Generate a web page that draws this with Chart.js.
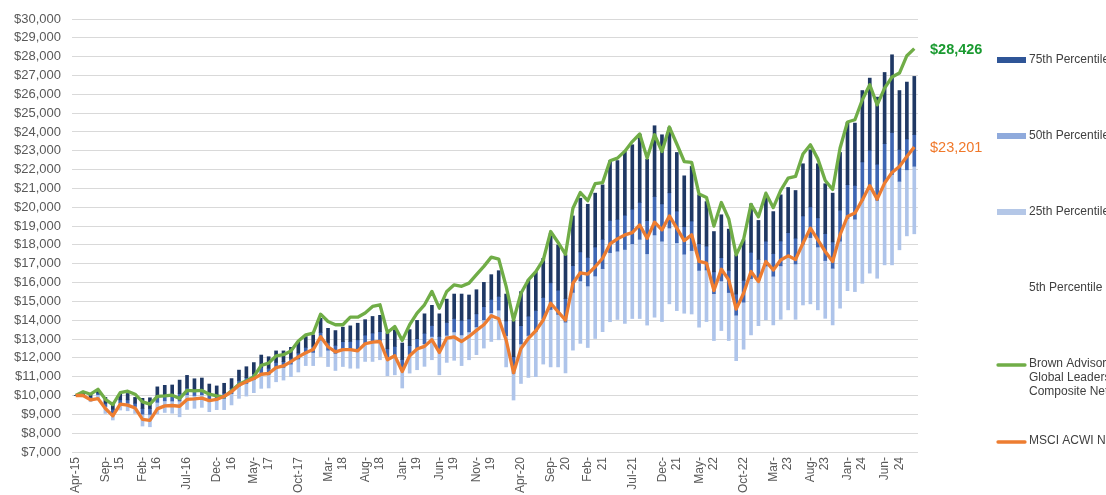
<!DOCTYPE html>
<html>
<head>
<meta charset="utf-8">
<script src="https://cdn.jsdelivr.net/npm/chart.js@4.4.1/dist/chart.umd.min.js"></script>
<style>
  html, body { margin: 0; padding: 0; background: #fff; overflow: hidden; }
  #wrap { position: relative; width: 1106px; height: 495px; }
</style>
</head>
<body>
<div id="wrap"><canvas id="growthChart" width="1106" height="495"></canvas></div>
<script>
// growth of $10,000, monthly, Apr-15 .. Sep-24
const months = [
    'Apr-15', 'May-15', 'Jun-15', 'Jul-15', 'Aug-15', 'Sep-15', 'Oct-15', 'Nov-15', 'Dec-15',
    'Jan-16', 'Feb-16', 'Mar-16', 'Apr-16', 'May-16', 'Jun-16', 'Jul-16', 'Aug-16', 'Sep-16', 'Oct-16', 'Nov-16', 'Dec-16',
    'Jan-17', 'Feb-17', 'Mar-17', 'Apr-17', 'May-17', 'Jun-17', 'Jul-17', 'Aug-17', 'Sep-17', 'Oct-17', 'Nov-17', 'Dec-17',
    'Jan-18', 'Feb-18', 'Mar-18', 'Apr-18', 'May-18', 'Jun-18', 'Jul-18', 'Aug-18', 'Sep-18', 'Oct-18', 'Nov-18', 'Dec-18',
    'Jan-19', 'Feb-19', 'Mar-19', 'Apr-19', 'May-19', 'Jun-19', 'Jul-19', 'Aug-19', 'Sep-19', 'Oct-19', 'Nov-19', 'Dec-19',
    'Jan-20', 'Feb-20', 'Mar-20', 'Apr-20', 'May-20', 'Jun-20', 'Jul-20', 'Aug-20', 'Sep-20', 'Oct-20', 'Nov-20', 'Dec-20',
    'Jan-21', 'Feb-21', 'Mar-21', 'Apr-21', 'May-21', 'Jun-21', 'Jul-21', 'Aug-21', 'Sep-21', 'Oct-21', 'Nov-21', 'Dec-21',
    'Jan-22', 'Feb-22', 'Mar-22', 'Apr-22', 'May-22', 'Jun-22', 'Jul-22', 'Aug-22', 'Sep-22', 'Oct-22', 'Nov-22', 'Dec-22',
    'Jan-23', 'Feb-23', 'Mar-23', 'Apr-23', 'May-23', 'Jun-23', 'Jul-23', 'Aug-23', 'Sep-23', 'Oct-23', 'Nov-23', 'Dec-23',
    'Jan-24', 'Feb-24', 'Mar-24', 'Apr-24', 'May-24', 'Jun-24', 'Jul-24', 'Aug-24', 'Sep-24'
];

// every 5th month gets a label, '\n' where excel wrapped it
const tickLabels = [
    'Apr-15', 'Sep-\n15', 'Feb-\n16', 'Jul-16', 'Dec-\n16', 'May-\n17', 'Oct-17', 'Mar-\n18',
    'Aug-\n18', 'Jan-\n19', 'Jun-\n19', 'Nov-\n19', 'Apr-20', 'Sep-\n20', 'Feb-\n21', 'Jul-21',
    'Dec-\n21', 'May-\n22', 'Oct-22', 'Mar-\n23', 'Aug-\n23', 'Jan-\n24', 'Jun-\n24'
];

const brownAdvisory = [
    10000, 10200, 10070, 10330, 9800, 9520, 10160, 10230, 10070, 9660,
    9540, 9960, 9980, 10020, 9840, 10270, 10250, 10270, 10070, 9980,
    9930, 10250, 10600, 10780, 11000, 11600, 11720, 12110, 12170, 12370,
    12900, 13220, 13310, 14320, 13930, 13760, 13760, 14160, 14160, 14380,
    14730, 14820, 13350, 13670, 12930, 13760, 14380, 14820, 15530, 14640,
    15530, 15880, 15800, 15970, 16420, 16860, 17350, 17250, 15800, 14010,
    15430, 16140, 16580, 17200, 18710, 18130, 17500, 19950, 20780, 20350,
    21260, 21310, 22470, 22610, 22980, 23490, 23890, 22610, 23850, 22960,
    24260, 23360, 22430, 22380, 20700, 20520, 19000, 20250, 19380, 17470,
    18300, 20150, 19490, 20750, 19980, 20900, 21550, 21640, 22830, 23320,
    22570, 21420, 20940, 23150, 24530, 24650, 25710, 26510, 25440, 26330,
    26920, 27130, 28050, 28426
];

const msciAcwi = [
    10000, 10000, 9770, 9840, 9310, 8920, 9540, 9490, 9340, 8730,
    8680, 9290, 9450, 9470, 9430, 9790, 9820, 9860, 9730, 9790,
    9960, 10200, 10550, 10730, 10900, 11130, 11170, 11480, 11570, 11800,
    12050, 12270, 12440, 13120, 12590, 12320, 12440, 12440, 12370, 12750,
    12840, 12870, 11900, 12110, 11280, 12110, 12470, 12610, 12960, 12290,
    13050, 13110, 12870, 13140, 13460, 13760, 14240, 14080, 12950, 11210,
    12500, 13030, 13440, 14010, 14900, 14450, 14010, 15960, 16520, 16450,
    16840, 17290, 18050, 18320, 18530, 18650, 19060, 18350, 19210, 18800,
    19540, 18890, 18230, 18540, 17120, 17030, 15580, 16710, 16140, 14590,
    15430, 16590, 16050, 17120, 16670, 17200, 17420, 17230, 18090, 18890,
    18270, 17650, 17120, 18540, 19510, 19690, 20390, 21150, 20430, 21280,
    21850, 22170, 22700, 23201
];

// peer universe percentiles
const pct75 = [
    10000, 10120, 10050, 10300, 9900, 9600, 10080, 10110, 9900, 9850,
    9880, 10460, 10540, 10560, 10820, 11070, 10890, 10930, 10610, 10510,
    10650, 10900, 11350, 11530, 11750, 12150, 12060, 12370, 12370, 12560,
    12850, 13130, 13220, 14100, 13570, 13450, 13630, 13700, 13840, 14030,
    14200, 14260, 13320, 13500, 12790, 13500, 13990, 14340, 14790, 14340,
    15120, 15390, 15390, 15340, 15620, 16010, 16420, 16630, 15390, 14000,
    15520, 16140, 16580, 17290, 18620, 18000, 17470, 19540, 20480, 20160,
    20750, 21190, 22470, 22480, 22960, 23320, 23880, 22550, 24330, 23850,
    24240, 22910, 21670, 22170, 20660, 20300, 18710, 19600, 18840, 17470,
    18270, 20180, 19300, 20660, 19770, 20660, 21050, 20890, 22310, 23050,
    22310, 21250, 20750, 22910, 24500, 24470, 26200, 26860, 25850, 27160,
    28100, 26200, 26650, 26950
];

const pct50 = [
    10000, 10050, 9910, 10130, 9590, 9270, 9770, 9770, 9590, 9310,
    9310, 9930, 10010, 10010, 10100, 10400, 10310, 10350, 10070, 10040,
    10130, 10380, 10800, 10950, 11160, 11500, 11450, 11760, 11800, 11980,
    12260, 12560, 12620, 13350, 12820, 12670, 12860, 12870, 12960, 13210,
    13320, 13390, 12480, 12610, 11910, 12650, 13020, 13310, 13720, 13140,
    13880, 14090, 13990, 14070, 14340, 14720, 15110, 15270, 13960, 12060,
    13710, 14220, 14520, 15210, 15990, 15600, 15150, 16900, 17630, 17340,
    17890, 18300, 19300, 19360, 19580, 19900, 20260, 19290, 20570, 20180,
    20770, 19800, 18970, 19270, 18060, 17940, 16570, 17320, 16650, 15390,
    16120, 17610, 17230, 18200, 17540, 18210, 18650, 18360, 19540, 20020,
    19440, 18600, 18160, 19850, 21200, 21160, 22410, 23030, 22290, 23380,
    23970, 23070, 23630, 23860
];

const pct25 = [
    10000, 10010, 9830, 10040, 9420, 9090, 9600, 9590, 9420, 9010,
    9000, 9640, 9720, 9710, 9710, 10040, 10000, 10040, 9770, 9790,
    9850, 10100, 10500, 10640, 10840, 11140, 11110, 11440, 11490, 11670,
    11940, 12250, 12290, 12940, 12410, 12240, 12440, 12420, 12480, 12760,
    12840, 12910, 12030, 12130, 11430, 12180, 12500, 12750, 13140, 12490,
    13200, 13380, 13220, 13380, 13650, 14020, 14400, 14540, 13180, 11180,
    12740, 13190, 13400, 14090, 14570, 14310, 13900, 15480, 16090, 15820,
    16350, 16740, 17590, 17670, 17760, 18060, 18300, 17530, 18530, 18200,
    18900, 18120, 17510, 17700, 16650, 16670, 15410, 16090, 15470, 14270,
    14960, 16210, 16110, 16880, 16340, 16890, 17350, 16990, 18040, 18390,
    17890, 17170, 16760, 18200, 19410, 19370, 20360, 20950, 20370, 21330,
    21740, 21380, 21990, 22180
];

const pct5 = [
    10000, 9930, 9670, 9850, 9050, 8700, 9230, 9190, 9050, 8380,
    8340, 9020, 9100, 9060, 8870, 9260, 9320, 9370, 9140, 9250,
    9250, 9500, 9850, 9970, 10150, 10380, 10400, 10730, 10820, 11000,
    11250, 11590, 11590, 12070, 11540, 11330, 11540, 11450, 11450, 11810,
    11810, 11900, 11050, 11100, 10400, 11190, 11370, 11550, 11900, 11100,
    11760, 11870, 11590, 11900, 12170, 12520, 12870, 12960, 11520, 9760,
    10640, 10960, 11000, 11670, 11520, 11520, 11200, 12410, 12770, 12550,
    13030, 13390, 13920, 14040, 13830, 14090, 14090, 13740, 14160, 13930,
    14870, 14510, 14370, 14330, 13630, 13930, 12920, 13450, 12920, 11850,
    12460, 13220, 13710, 14020, 13750, 14050, 14550, 14050, 14810, 14870,
    14550, 14100, 13750, 14640, 15570, 15520, 15960, 16500, 16230, 16940,
    16940, 17740, 18480, 18590
];

const FONT = "'Liberation Sans', Arial, sans-serif";

// right hand legend + end-of-line values, drawn by hand to get excel's spacing
const sideLegend = {
    id: 'sideLegend',
    afterDraw(chart) {
        const ctx = chart.ctx;
        const ds = chart.data.datasets;
        ctx.save();

        // last values next to the lines
        [[1, 'bold 14.5px ' + FONT, '#1a9a30'], [0, '14.5px ' + FONT, '#f0782a']].forEach(([idx, font, color]) => {
            const pts = chart.getDatasetMeta(idx).data;
            const last = pts[pts.length - 1];
            const v = ds[idx].data[ds[idx].data.length - 1];
            ctx.font = font;
            ctx.fillStyle = color;
            ctx.textAlign = 'left';
            ctx.textBaseline = 'middle';
            ctx.fillText('$' + v.toLocaleString('en-US'), chart.chartArea.right + 12, last.y + 1);
        });

        const rows = [[2, 60], [3, 136], [4, 212], [5, 288], [1, 364], [0, 441]];
        rows.forEach(([idx, y]) => {
            const d = ds[idx];
            if (d.type === 'line') {
                ctx.strokeStyle = d.borderColor;
                ctx.lineWidth = 3.3;
                ctx.lineCap = 'round';
                ctx.beginPath();
                ctx.moveTo(998, y + 1);
                ctx.lineTo(1025, y + 1);
                ctx.stroke();
            } else if (d.legendColor) {
                ctx.fillStyle = d.legendColor;
                ctx.fillRect(997, y - 3, 29, 6);
            }
            ctx.font = '12px ' + FONT;
            ctx.fillStyle = '#404040';
            ctx.textAlign = 'left';
            ctx.textBaseline = 'middle';
            d.legendText.forEach((line, k) => ctx.fillText(line, 1029, y + k * 14));
        });
        ctx.restore();
    }
};

function isSingle(i) {
    return i % 5 === 0 && tickLabels[i / 5].indexOf('\n') < 0;
}

new Chart(document.getElementById('growthChart'), {
    type: 'bar',
    data: {
        labels: months,
        datasets: [
            {
                type: 'line',
                label: 'MSCI ACWI Net',
                legendText: ['MSCI ACWI Net'],
                data: msciAcwi,
                borderColor: '#ed7d31',
                borderWidth: 3.3,
                borderJoinStyle: 'round',
                pointRadius: 0,
                order: 0
            },
            {
                type: 'line',
                label: 'Brown Advisory Global Leaders Composite Net',
                legendText: ['Brown Advisory', 'Global Leaders', 'Composite Net'],
                data: brownAdvisory,
                borderColor: '#70ad47',
                borderWidth: 3.3,
                borderJoinStyle: 'round',
                pointRadius: 0,
                order: 1
            },
            {
                label: '75th Percentile',
                legendText: ['75th Percentile'],
                legendColor: '#2f5597',
                data: pct75.map((v, i) => [pct50[i], v]),
                backgroundColor: '#1f3864',
                grouped: false,
                barThickness: 3,
                order: 2
            },
            {
                label: '50th Percentile',
                legendText: ['50th Percentile'],
                legendColor: '#8faadc',
                data: pct50.map((v, i) => [pct25[i], v]),
                backgroundColor: '#3e66b3',
                grouped: false,
                barThickness: 3,
                order: 2
            },
            {
                label: '25th Percentile',
                legendText: ['25th Percentile'],
                legendColor: '#b4c7e7',
                data: pct25.map((v, i) => [pct5[i], v]),
                backgroundColor: '#aec4ea',
                grouped: false,
                barThickness: 3,
                order: 2
            },
            {
                label: '5th Percentile',
                legendText: ['5th Percentile'],
                data: pct5.map(v => [7000, v]),
                backgroundColor: 'rgba(255,255,255,0)',
                grouped: false,
                barThickness: 3,
                order: 3
            }
        ]
    },
    options: {
        responsive: false,
        animation: false,
        layout: { padding: { top: 19, right: 188, left: 0, bottom: 0 } },
        plugins: {
            legend: { display: false },
            tooltip: { enabled: false }
        },
        scales: {
            x: {
                offset: true,
                grid: { display: false, drawTicks: false },
                border: { display: false },
                ticks: {
                    autoSkip: false,
                    minRotation: 90,
                    maxRotation: 90,
                    padding: 5,
                    labelOffset: -7.2,
                    color: '#595959',
                    // single line labels get a blank first line with half height so they sit on the tick
                    font: c => ({ family: FONT, size: 12, lineHeight: isSingle(c.index) ? 0.6 : 1.2 }),
                    callback: function (value, i) {
                        if (i % 5 !== 0) return '';
                        const t = tickLabels[i / 5];
                        return t.indexOf('\n') >= 0 ? t.split('\n') : ['', t];
                    }
                },
                afterFit: s => { s.height = 43; }
            },
            y: {
                min: 7000,
                max: 30000,
                grid: { color: '#d9d9d9', lineWidth: 1, drawTicks: false },
                border: { display: false },
                ticks: {
                    stepSize: 1000,
                    padding: 11,
                    color: '#595959',
                    font: { family: FONT, size: 13 },
                    callback: v => '$' + v.toLocaleString('en-US')
                },
                afterFit: s => { s.width = 72; }
            }
        }
    },
    plugins: [sideLegend]
});
</script>
</body>
</html>
